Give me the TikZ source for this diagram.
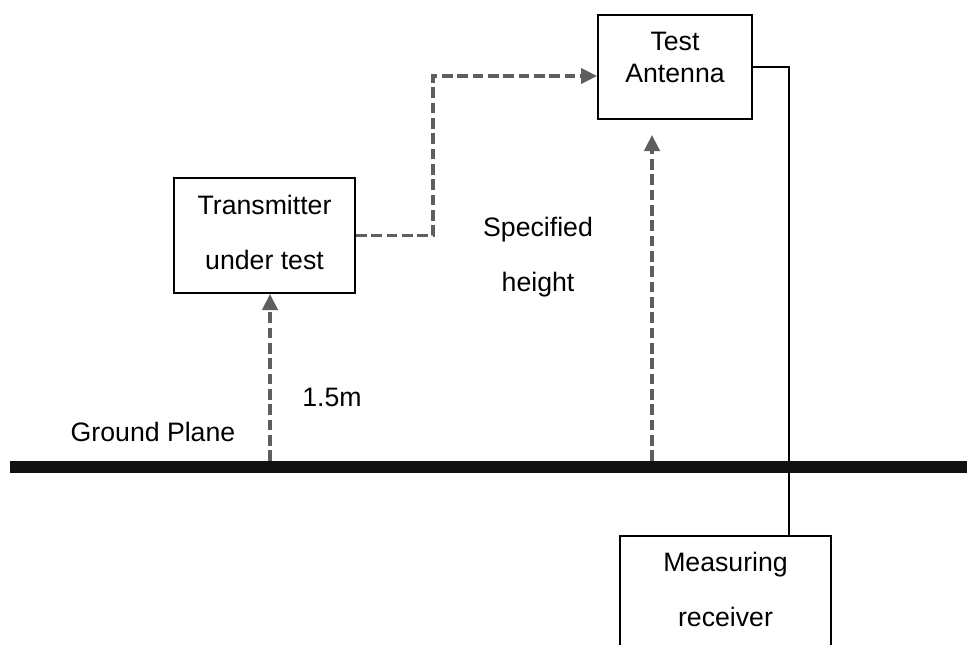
\documentclass[tikz,border=0pt]{standalone}
\usepackage{fontspec}
\setmainfont{Liberation Sans}
\usepackage{xcolor}
\usepackage{tikz}
\usetikzlibrary{calc,arrows.meta}
\definecolor{ink}{HTML}{000000}
\definecolor{ground}{HTML}{111111}
\definecolor{signal}{HTML}{5E5E5E}
\tikzset{
  box/.style={draw=ink,line width=1.5pt,inner sep=0pt},
  txt/.style={align=center,font=\fontsize{20}{24}\selectfont,inner sep=0pt},
  sig/.style={color=signal,line width=2.4pt,dash pattern=on 8pt off 3.5pt,
    -{Triangle[length=12pt,width=11.5pt]}},
  wire/.style={color=ink,line width=2pt}
}

\begin{document}
\begin{tikzpicture}[x=0.75pt,y=-0.75pt]
  \clip (0,0) rectangle (967,644);
  % boxes
  \node[box,minimum width=115.5pt,minimum height=78pt] (antenna) at (675,67) {};
  \node[txt] (antennaText) at (675,57.5) {Test\\Antenna};
  \node[box,minimum width=135.75pt,minimum height=86.25pt] (tx) at (264.5,235.5) {};
  \node[txt] (txText) at (264.5,232.5) {Transmitter\\[17.25pt]under test};
  \node[box,minimum width=158.25pt,minimum height=93pt] (rx) at (725.5,598) {};
  \node[txt] (rxText) at (725.5,589.5) {Measuring\\[17.25pt]receiver};
  % labels
  \node[txt] (gpText) at (153,432) {Ground Plane};
  \node[txt] (hText) at (332,397) {1.5m};
  \node[txt] (shText) at (538,257.5) {Specified\\[17.25pt]height};
  % ground plane
  \coordinate (gL) at (10,467);
  \coordinate (gR) at (967,467);
  \coordinate (g1) at (270,461);
  \coordinate (g2) at (652,461);
  \coordinate (antTip) at (652,135);
  \coordinate (bendA) at (433,76);
  \coordinate (rxTop) at (789,536);
  \draw[wire] (antenna.east) -| (rxTop);
  \draw[color=ground,line width=9pt] (gL) -- (gR);
  % signal paths
  \draw[sig] (tx.east) -| (bendA) -- (antenna.west |- bendA);
  \draw[sig] (g1) -- (g1 |- tx.south);
  \draw[sig] (g2) -- (antTip);
\end{tikzpicture}
\end{document}
